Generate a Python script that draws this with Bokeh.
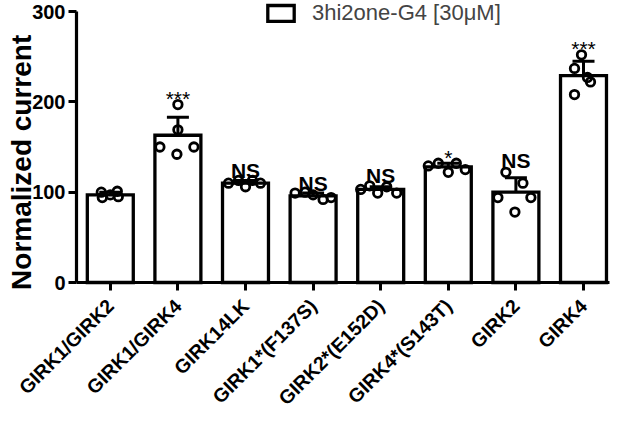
import math
from bokeh.plotting import figure
from bokeh.models import (Range1d, FixedTicker, Whisker, TeeHead, ColumnDataSource,
                          Legend, LegendItem, Label)
from bokeh.core.properties import value
from bokeh.embed import file_html
from bokeh.resources import INLINE

# ---------------- data ----------------
categories = ["GIRK1/GIRK2", "GIRK1/GIRK4", "GIRK14LK", "GIRK1*(F137S)",
              "GIRK2*(E152D)", "GIRK4*(S143T)", "GIRK2", "GIRK4"]
means = [97, 163, 110, 96, 103, 128, 100, 229]
sds = [3, 20, 3, 3, 3, 4, 16, 16]
points = [
    [100, 101, 94, 95, 97],
    [197, 169, 150, 142, 150],
    [110, 113, 106, 113, 110],
    [99, 100, 97, 92, 94],
    [103, 107, 99, 106, 99],
    [129, 132, 122, 132, 125],
    [122, 110, 94, 94, 78],
    [252, 237, 227, 222, 208],
]
significance = ["", "***", "NS", "NS", "NS", "*", "NS", "***"]
y_ticks = [0, 100, 200, 300]
legend_label = "3hi2one-G4 [30\u03bcM]"
y_label = "Normalized current"

# ---------------- layout helpers ----------------
jitter_px = [[-9, 7, -8, 8, 0], [0, 0, -18, -1, 16], [-17, -7, 0, 7, 15],
             [-18, -8, 0, 10, 18], [-20, -11, -3, 6, 16], [-20, -10, 0, 8, 17],
             [-10, 7, -18, 15, -1], [-2, -9, 4, 7, -9]]
sig_y = [0, 204, 124, 110, 119, 138, 135, 259]
px_per_cat = 67.6
FONT = "Liberation Sans"
W, H = 611, 413
axis_x_px, zero_y_px, top_y_px = 76, 282, 11      # canvas pixels
x_end = 7.885
ppu_y = (zero_y_px - top_y_px) / 300.0

xc = [i + 0.5 for i in range(len(categories))]

# The frame covers the whole canvas; both axes are pinned at 0.
p = figure(width=W, height=H, output_backend="svg", toolbar_location=None,
           x_range=Range1d(-axis_x_px / px_per_cat, (W - axis_x_px) / px_per_cat),
           y_range=Range1d(-(H - zero_y_px) / ppu_y, zero_y_px / ppu_y),
           min_border_left=0, min_border_right=0, min_border_top=0,
           min_border_bottom=0)
p.outline_line_color = None
p.xgrid.visible = False
p.ygrid.visible = False
p.background_fill_color = None
p.border_fill_color = "white"

bar_src = ColumnDataSource(dict(x=xc, top=means,
                                lo=[m - s for m, s in zip(means, sds)],
                                hi=[m + s for m, s in zip(means, sds)]))
bars = p.vbar(x="x", top="top", bottom=0, width=0.68, source=bar_src,
              fill_color="white", line_color="black", line_width=3.3,
              line_join="miter")

wh = Whisker(source=bar_src, base="x", lower="lo", upper="hi",
             line_color="black", line_width=3,
             upper_head=TeeHead(size=22, line_width=3, line_color="black"),
             lower_head=TeeHead(size=22, line_width=3, line_color="black"))
p.add_layout(wh)

px_, py_ = [], []
for i, vals in enumerate(points):
    for j, v in enumerate(vals):
        px_.append(xc[i] + jitter_px[i][j] / px_per_cat)
        py_.append(v)
p.scatter(px_, py_, size=8.5, marker="circle", fill_color=None,
          line_color="black", line_width=2.8)

ns_x = [xc[i] for i, s in enumerate(significance) if s == "NS"]
ns_y = [sig_y[i] for i, s in enumerate(significance) if s == "NS"]
ns_t = [s for s in significance if s == "NS"]
p.text(ns_x, ns_y, text=ns_t, text_align="center", text_baseline="alphabetic",
       text_font=value(FONT), text_font_size="21px", text_font_style="bold",
       text_color="black")
st_x = [xc[i] for i, s in enumerate(significance) if s.startswith("*")]
st_y = [sig_y[i] for i, s in enumerate(significance) if s.startswith("*")]
st_t = [s for s in significance if s.startswith("*")]
p.text(st_x, st_y, text=st_t, text_align="center", text_baseline="alphabetic",
       text_font=value(FONT), text_font_size="21px", text_color="black")

# axes
for ax in (p.xaxis[0], p.yaxis[0]):
    ax.fixed_location = 0
    ax.axis_line_width = 3.2
    ax.major_tick_line_width = 3
    ax.major_tick_out = 8
    ax.major_tick_in = 0
    ax.minor_tick_line_color = None
    ax.major_label_text_font = FONT
    ax.major_label_text_font_style = "bold"
    ax.major_label_text_color = "black"
    ax.axis_line_color = "black"
    ax.major_tick_line_color = "black"

p.yaxis.ticker = FixedTicker(ticks=y_ticks)
p.yaxis.bounds = (0, 300)
p.yaxis.major_label_text_font_size = "20px"
p.yaxis.major_label_standoff = 3

p.xaxis.ticker = FixedTicker(ticks=xc)
p.xaxis.bounds = (0, x_end)
p.xaxis.major_label_overrides = {x: c for x, c in zip(xc, categories)}
p.xaxis.major_label_orientation = math.pi / 4
p.xaxis.major_label_text_font_size = "19.5px"
p.xaxis.major_label_standoff = 12

# y axis title
p.add_layout(Label(x=(21 - axis_x_px) / px_per_cat, y=133, text=y_label,
                   angle=math.pi / 2, text_align="center", text_baseline="alphabetic",
                   text_font=FONT, text_font_size="28px",
                   text_font_style="bold", text_color="black"))

legend = Legend(items=[LegendItem(label=legend_label, renderers=[bars])],
                location=(264, H - 26), glyph_width=33, glyph_height=20,
                label_standoff=15, label_text_font=FONT, label_text_font_size="22px",
                padding=0, margin=0, border_line_color=None,
                background_fill_alpha=0, label_height=20)
p.add_layout(legend)

open("out.html", "w").write(file_html(p, INLINE))
